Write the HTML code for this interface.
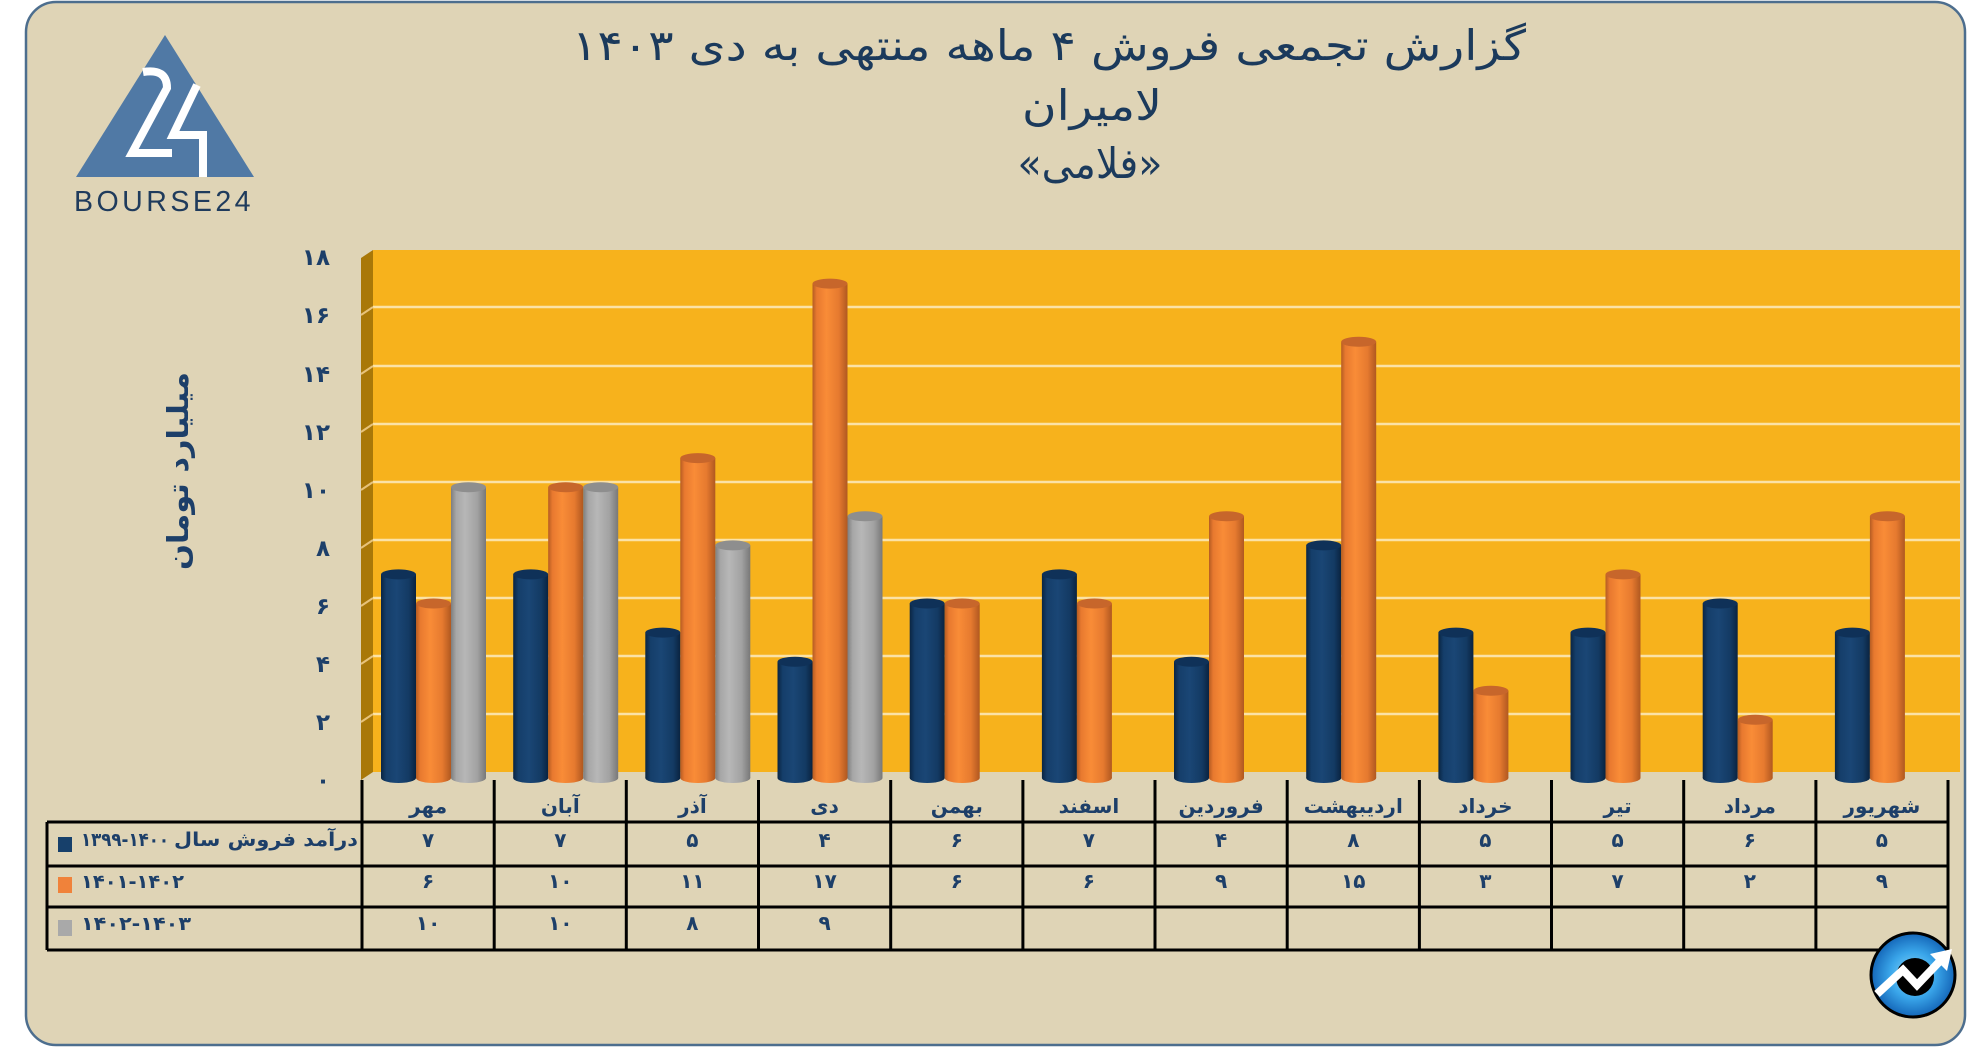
<!DOCTYPE html>
<html><head><meta charset="utf-8">
<style>
html,body{margin:0;padding:0;background:#ffffff;}
svg{display:block}
.fa{font-family:"DejaVu Sans","Liberation Sans",sans-serif;}
.ttl{font-size:42px;fill:#1b3a5c;}
.ax{font-size:23px;font-weight:bold;fill:#1d3f69;}
.cat{font-size:20px;font-weight:bold;fill:#1d3f69;}
.val{font-size:20px;font-weight:bold;fill:#1d3f69;}
.lg{font-size:19px;font-weight:bold;fill:#1d3f69;}
</style></head>
<body>
<svg width="1986" height="1047" viewBox="0 0 1986 1047" xmlns="http://www.w3.org/2000/svg">
<defs>
<linearGradient id="gN" x1="0" y1="0" x2="1" y2="0">
<stop offset="0" stop-color="#0a2542"/><stop offset="0.15" stop-color="#153e6a"/><stop offset="0.45" stop-color="#1a4675"/><stop offset="0.8" stop-color="#133a63"/><stop offset="1" stop-color="#0a2340"/>
</linearGradient>
<linearGradient id="gO" x1="0" y1="0" x2="1" y2="0">
<stop offset="0" stop-color="#b55c22"/><stop offset="0.12" stop-color="#e8792f"/><stop offset="0.4" stop-color="#f98c37"/><stop offset="0.75" stop-color="#e67a2f"/><stop offset="1" stop-color="#b05820"/>
</linearGradient>
<linearGradient id="gG" x1="0" y1="0" x2="1" y2="0">
<stop offset="0" stop-color="#7e7e7e"/><stop offset="0.15" stop-color="#a7a7a7"/><stop offset="0.4" stop-color="#b7b7b7"/><stop offset="0.75" stop-color="#a2a2a2"/><stop offset="1" stop-color="#787878"/>
</linearGradient>
<radialGradient id="gB" cx="0.5" cy="0.5" r="0.5">
<stop offset="0" stop-color="#8fdcfc"/><stop offset="0.55" stop-color="#3aa6ea"/><stop offset="1" stop-color="#1466b8"/>
</radialGradient>
</defs>

<!-- frame -->
<rect x="26" y="2" width="1939" height="1043" rx="30" ry="30" fill="#dfd4b6" stroke="#4d6e8e" stroke-width="2.5"/>

<!-- top-left logo -->
<polygon points="165,35 76,177 254,177" fill="#5079a5"/>
<path d="M143,72 Q167,68 167,88 L132,153 L172,153" fill="none" stroke="#ffffff" stroke-width="8"/>
<path d="M197,85 L173,135 L203,135 L203,177" fill="none" stroke="#ffffff" stroke-width="8"/>
<text x="164" y="211" text-anchor="middle" font-family="Liberation Sans, sans-serif" font-size="29" letter-spacing="3.5" fill="#1f3b5c" textLength="180" lengthAdjust="spacingAndGlyphs">BOURSE24</text>

<!-- title -->
<text class="fa ttl" x="1049" y="60" text-anchor="middle" direction="rtl" textLength="954" lengthAdjust="spacingAndGlyphs">گزارش تجمعی فروش ۴ ماهه منتهی به دی ۱۴۰۳</text>
<text class="fa ttl" x="1092" y="120" text-anchor="middle" direction="rtl" textLength="140" lengthAdjust="spacingAndGlyphs">لامیران</text>
<text class="fa ttl" x="1090" y="178" text-anchor="middle" direction="rtl" textLength="145" lengthAdjust="spacingAndGlyphs">«فلامی»</text>

<!-- y axis title -->
<text class="fa" x="0" y="0" transform="translate(188,471) rotate(-90)" text-anchor="middle" direction="rtl" font-size="29" font-weight="bold" fill="#1d3f69" textLength="198" lengthAdjust="spacingAndGlyphs">میلیارد تومان</text>

<!-- walls -->
<polygon points="361,258 373,250 373,772 361,780" fill="#a97808"/>
<rect x="373" y="250" width="1587" height="522" fill="#f7b21c"/>
<g stroke="#fbe2a6" stroke-width="2.5">
<line x1="373" y1="714" x2="1960" y2="714"/>
<line x1="373" y1="656" x2="1960" y2="656"/>
<line x1="373" y1="598" x2="1960" y2="598"/>
<line x1="373" y1="540" x2="1960" y2="540"/>
<line x1="373" y1="482" x2="1960" y2="482"/>
<line x1="373" y1="424" x2="1960" y2="424"/>
<line x1="373" y1="366" x2="1960" y2="366"/>
<line x1="373" y1="307" x2="1960" y2="307"/>
</g>
<g stroke="#e7c27a" stroke-width="2">
<line x1="361" y1="722" x2="373" y2="714"/>
<line x1="361" y1="664" x2="373" y2="656"/>
<line x1="361" y1="606" x2="373" y2="598"/>
<line x1="361" y1="548" x2="373" y2="540"/>
<line x1="361" y1="490" x2="373" y2="482"/>
<line x1="361" y1="432" x2="373" y2="424"/>
<line x1="361" y1="374" x2="373" y2="366"/>
<line x1="361" y1="315" x2="373" y2="307"/>
</g>

<!-- y labels -->
<g class="fa ax" text-anchor="end">
<text x="330" y="788">۰</text>
<text x="330" y="730">۲</text>
<text x="330" y="672">۴</text>
<text x="330" y="614">۶</text>
<text x="330" y="556">۸</text>
<text x="330" y="498">۱۰</text>
<text x="330" y="440">۱۲</text>
<text x="330" y="382">۱۴</text>
<text x="330" y="323">۱۶</text>
<text x="330" y="265">۱۸</text>
</g>

<!-- bars -->
<g>
<!-- k0 -->
<ellipse cx="398.5" cy="778" rx="17.5" ry="5" fill="url(#gN)"/><rect x="381" y="574.4" width="35" height="203.6" fill="url(#gN)"/><ellipse cx="398.5" cy="574.4" rx="17.5" ry="5" fill="#0f3158"/>
<ellipse cx="433.5" cy="778" rx="17.5" ry="5" fill="url(#gO)"/><rect x="416" y="603.5" width="35" height="174.5" fill="url(#gO)"/><ellipse cx="433.5" cy="603.5" rx="17.5" ry="5" fill="#c7662b"/>
<ellipse cx="468.5" cy="778" rx="17.5" ry="5" fill="url(#gG)"/><rect x="451" y="487.2" width="35" height="290.8" fill="url(#gG)"/><ellipse cx="468.5" cy="487.2" rx="17.5" ry="5" fill="#8e8e8e"/>
<!-- k1 -->
<ellipse cx="530.7" cy="778" rx="17.5" ry="5" fill="url(#gN)"/><rect x="513.2" y="574.4" width="35" height="203.6" fill="url(#gN)"/><ellipse cx="530.7" cy="574.4" rx="17.5" ry="5" fill="#0f3158"/>
<ellipse cx="565.7" cy="778" rx="17.5" ry="5" fill="url(#gO)"/><rect x="548.2" y="487.2" width="35" height="290.8" fill="url(#gO)"/><ellipse cx="565.7" cy="487.2" rx="17.5" ry="5" fill="#c7662b"/>
<ellipse cx="600.7" cy="778" rx="17.5" ry="5" fill="url(#gG)"/><rect x="583.2" y="487.2" width="35" height="290.8" fill="url(#gG)"/><ellipse cx="600.7" cy="487.2" rx="17.5" ry="5" fill="#8e8e8e"/>
<!-- k2 -->
<ellipse cx="662.8" cy="778" rx="17.5" ry="5" fill="url(#gN)"/><rect x="645.3" y="632.6" width="35" height="145.4" fill="url(#gN)"/><ellipse cx="662.8" cy="632.6" rx="17.5" ry="5" fill="#0f3158"/>
<ellipse cx="697.8" cy="778" rx="17.5" ry="5" fill="url(#gO)"/><rect x="680.3" y="458.1" width="35" height="319.9" fill="url(#gO)"/><ellipse cx="697.8" cy="458.1" rx="17.5" ry="5" fill="#c7662b"/>
<ellipse cx="732.8" cy="778" rx="17.5" ry="5" fill="url(#gG)"/><rect x="715.3" y="545.4" width="35" height="232.6" fill="url(#gG)"/><ellipse cx="732.8" cy="545.4" rx="17.5" ry="5" fill="#8e8e8e"/>
<!-- k3 -->
<ellipse cx="795" cy="778" rx="17.5" ry="5" fill="url(#gN)"/><rect x="777.5" y="661.7" width="35" height="116.3" fill="url(#gN)"/><ellipse cx="795" cy="661.7" rx="17.5" ry="5" fill="#0f3158"/>
<ellipse cx="830" cy="778" rx="17.5" ry="5" fill="url(#gO)"/><rect x="812.5" y="283.6" width="35" height="494.4" fill="url(#gO)"/><ellipse cx="830" cy="283.6" rx="17.5" ry="5" fill="#c7662b"/>
<ellipse cx="865" cy="778" rx="17.5" ry="5" fill="url(#gG)"/><rect x="847.5" y="516.3" width="35" height="261.7" fill="url(#gG)"/><ellipse cx="865" cy="516.3" rx="17.5" ry="5" fill="#8e8e8e"/>
<!-- k4 -->
<ellipse cx="927.2" cy="778" rx="17.5" ry="5" fill="url(#gN)"/><rect x="909.7" y="603.5" width="35" height="174.5" fill="url(#gN)"/><ellipse cx="927.2" cy="603.5" rx="17.5" ry="5" fill="#0f3158"/>
<ellipse cx="962.2" cy="778" rx="17.5" ry="5" fill="url(#gO)"/><rect x="944.7" y="603.5" width="35" height="174.5" fill="url(#gO)"/><ellipse cx="962.2" cy="603.5" rx="17.5" ry="5" fill="#c7662b"/>
<!-- k5 -->
<ellipse cx="1059.4" cy="778" rx="17.5" ry="5" fill="url(#gN)"/><rect x="1041.9" y="574.4" width="35" height="203.6" fill="url(#gN)"/><ellipse cx="1059.4" cy="574.4" rx="17.5" ry="5" fill="#0f3158"/>
<ellipse cx="1094.4" cy="778" rx="17.5" ry="5" fill="url(#gO)"/><rect x="1076.9" y="603.5" width="35" height="174.5" fill="url(#gO)"/><ellipse cx="1094.4" cy="603.5" rx="17.5" ry="5" fill="#c7662b"/>
<!-- k6 -->
<ellipse cx="1191.5" cy="778" rx="17.5" ry="5" fill="url(#gN)"/><rect x="1174" y="661.7" width="35" height="116.3" fill="url(#gN)"/><ellipse cx="1191.5" cy="661.7" rx="17.5" ry="5" fill="#0f3158"/>
<ellipse cx="1226.5" cy="778" rx="17.5" ry="5" fill="url(#gO)"/><rect x="1209" y="516.3" width="35" height="261.7" fill="url(#gO)"/><ellipse cx="1226.5" cy="516.3" rx="17.5" ry="5" fill="#c7662b"/>
<!-- k7 -->
<ellipse cx="1323.7" cy="778" rx="17.5" ry="5" fill="url(#gN)"/><rect x="1306.2" y="545.4" width="35" height="232.6" fill="url(#gN)"/><ellipse cx="1323.7" cy="545.4" rx="17.5" ry="5" fill="#0f3158"/>
<ellipse cx="1358.7" cy="778" rx="17.5" ry="5" fill="url(#gO)"/><rect x="1341.2" y="341.8" width="35" height="436.2" fill="url(#gO)"/><ellipse cx="1358.7" cy="341.8" rx="17.5" ry="5" fill="#c7662b"/>
<!-- k8 -->
<ellipse cx="1455.9" cy="778" rx="17.5" ry="5" fill="url(#gN)"/><rect x="1438.4" y="632.6" width="35" height="145.4" fill="url(#gN)"/><ellipse cx="1455.9" cy="632.6" rx="17.5" ry="5" fill="#0f3158"/>
<ellipse cx="1490.9" cy="778" rx="17.5" ry="5" fill="url(#gO)"/><rect x="1473.4" y="690.8" width="35" height="87.2" fill="url(#gO)"/><ellipse cx="1490.9" cy="690.8" rx="17.5" ry="5" fill="#c7662b"/>
<!-- k9 -->
<ellipse cx="1588" cy="778" rx="17.5" ry="5" fill="url(#gN)"/><rect x="1570.5" y="632.6" width="35" height="145.4" fill="url(#gN)"/><ellipse cx="1588" cy="632.6" rx="17.5" ry="5" fill="#0f3158"/>
<ellipse cx="1623" cy="778" rx="17.5" ry="5" fill="url(#gO)"/><rect x="1605.5" y="574.4" width="35" height="203.6" fill="url(#gO)"/><ellipse cx="1623" cy="574.4" rx="17.5" ry="5" fill="#c7662b"/>
<!-- k10 -->
<ellipse cx="1720.2" cy="778" rx="17.5" ry="5" fill="url(#gN)"/><rect x="1702.7" y="603.5" width="35" height="174.5" fill="url(#gN)"/><ellipse cx="1720.2" cy="603.5" rx="17.5" ry="5" fill="#0f3158"/>
<ellipse cx="1755.2" cy="778" rx="17.5" ry="5" fill="url(#gO)"/><rect x="1737.7" y="719.8" width="35" height="58.2" fill="url(#gO)"/><ellipse cx="1755.2" cy="719.8" rx="17.5" ry="5" fill="#c7662b"/>
<!-- k11 -->
<ellipse cx="1852.4" cy="778" rx="17.5" ry="5" fill="url(#gN)"/><rect x="1834.9" y="632.6" width="35" height="145.4" fill="url(#gN)"/><ellipse cx="1852.4" cy="632.6" rx="17.5" ry="5" fill="#0f3158"/>
<ellipse cx="1887.4" cy="778" rx="17.5" ry="5" fill="url(#gO)"/><rect x="1869.9" y="516.3" width="35" height="261.7" fill="url(#gO)"/><ellipse cx="1887.4" cy="516.3" rx="17.5" ry="5" fill="#c7662b"/>
</g>

<!-- table lines -->
<g stroke="#000" stroke-width="3" fill="none">
<line x1="47" y1="822" x2="1948" y2="822"/>
<line x1="47" y1="866" x2="1948" y2="866"/>
<line x1="47" y1="907" x2="1948" y2="907"/>
<line x1="47" y1="950" x2="1948" y2="950"/>
<line x1="47" y1="822" x2="47" y2="950"/>
<line x1="362" y1="780" x2="362" y2="950"/>
<line x1="494.2" y1="780" x2="494.2" y2="950"/>
<line x1="626.3" y1="780" x2="626.3" y2="950"/>
<line x1="758.5" y1="780" x2="758.5" y2="950"/>
<line x1="890.7" y1="780" x2="890.7" y2="950"/>
<line x1="1022.9" y1="780" x2="1022.9" y2="950"/>
<line x1="1155" y1="780" x2="1155" y2="950"/>
<line x1="1287.2" y1="780" x2="1287.2" y2="950"/>
<line x1="1419.4" y1="780" x2="1419.4" y2="950"/>
<line x1="1551.5" y1="780" x2="1551.5" y2="950"/>
<line x1="1683.7" y1="780" x2="1683.7" y2="950"/>
<line x1="1815.9" y1="780" x2="1815.9" y2="950"/>
<line x1="1948" y1="780" x2="1948" y2="950"/>
</g>

<!-- category labels -->
<g class="fa cat" text-anchor="middle" direction="rtl">
<text x="428.1" y="813">مهر</text>
<text x="560.3" y="813">آبان</text>
<text x="692.4" y="813">آذر</text>
<text x="824.6" y="813">دی</text>
<text x="956.8" y="813">بهمن</text>
<text x="1088.9" y="813">اسفند</text>
<text x="1221.1" y="813">فروردین</text>
<text x="1353.3" y="813">اردیبهشت</text>
<text x="1485.4" y="813">خرداد</text>
<text x="1617.6" y="813">تیر</text>
<text x="1749.8" y="813">مرداد</text>
<text x="1881.9" y="813">شهریور</text>
</g>

<!-- legend -->
<rect x="58" y="837" width="14" height="15" fill="#17406b"/>
<rect x="58" y="877" width="14" height="16" fill="#f0823a"/>
<rect x="58" y="920" width="14" height="16" fill="#a9a9a9"/>
<text class="fa lg" x="81" y="846" textLength="88" lengthAdjust="spacingAndGlyphs">۱۳۹۹-۱۴۰۰</text>
<text class="fa lg" x="266" y="846" text-anchor="middle" direction="rtl" textLength="184" lengthAdjust="spacingAndGlyphs">درآمد فروش سال</text>
<text class="fa lg" x="81" y="888" textLength="103" lengthAdjust="spacingAndGlyphs">۱۴۰۱-۱۴۰۲</text>
<text class="fa lg" x="81" y="930" textLength="110" lengthAdjust="spacingAndGlyphs">۱۴۰۲-۱۴۰۳</text>

<!-- values -->
<g class="fa val" text-anchor="middle">
<text x="428.1" y="847">۷</text><text x="560.3" y="847">۷</text><text x="692.4" y="847">۵</text><text x="824.6" y="847">۴</text><text x="956.8" y="847">۶</text><text x="1088.9" y="847">۷</text><text x="1221.1" y="847">۴</text><text x="1353.3" y="847">۸</text><text x="1485.4" y="847">۵</text><text x="1617.6" y="847">۵</text><text x="1749.8" y="847">۶</text><text x="1881.9" y="847">۵</text>
<text x="428.1" y="888">۶</text><text x="560.3" y="888">۱۰</text><text x="692.4" y="888">۱۱</text><text x="824.6" y="888">۱۷</text><text x="956.8" y="888">۶</text><text x="1088.9" y="888">۶</text><text x="1221.1" y="888">۹</text><text x="1353.3" y="888">۱۵</text><text x="1485.4" y="888">۳</text><text x="1617.6" y="888">۷</text><text x="1749.8" y="888">۲</text><text x="1881.9" y="888">۹</text>
<text x="428.1" y="930">۱۰</text><text x="560.3" y="930">۱۰</text><text x="692.4" y="930">۸</text><text x="824.6" y="930">۹</text>
</g>

<!-- bottom-right logo -->
<circle cx="1913" cy="975" r="42" fill="url(#gB)" stroke="#000" stroke-width="3"/>
<circle cx="1915" cy="977" r="19" fill="#000"/>
<polyline points="1877,994 1903,970 1917,985 1940,961" fill="none" stroke="#fff" stroke-width="8" stroke-linejoin="miter"/>
<polygon points="1952,949 1930,954 1947,971" fill="#fff"/>
</svg>
</body></html>
